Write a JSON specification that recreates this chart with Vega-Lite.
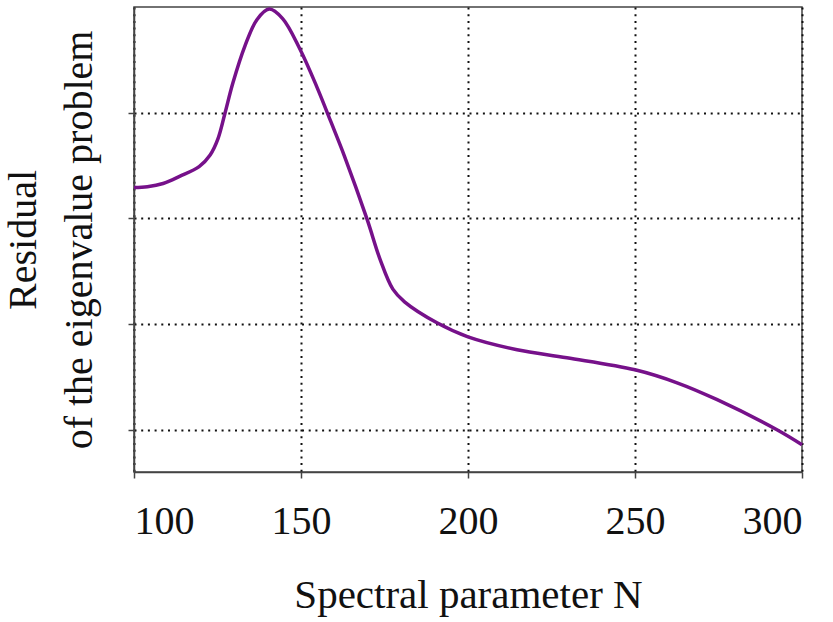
{
  "$schema": "https://vega.github.io/schema/vega-lite/v6.json",
  "width": 668,
  "height": 465,
  "autosize": {"type": "none"},
  "padding": {"left": 134, "top": 7, "right": 31, "bottom": 150},
  "background": "white",
  "config": {
    "view": {"stroke": "#444", "strokeWidth": 1.5},
    "font": "Liberation Serif",
    "axis": {
      "domainColor": "#444",
      "domainWidth": 1.5,
      "tickColor": "#444",
      "tickWidth": 1.5,
      "tickSize": 6,
      "gridColor": "#111",
      "gridWidth": 2,
      "gridDash": [2, 4.7],
      "labelFont": "Liberation Serif",
      "titleFont": "Liberation Serif",
      "labelColor": "#111",
      "titleColor": "#111",
      "titleFontWeight": "normal"
    }
  },
  "data": {
    "values": [
      {"N": 100, "residual": 3.293},
      {"N": 104, "residual": 3.30},
      {"N": 108.7, "residual": 3.330},
      {"N": 113.8, "residual": 3.400},
      {"N": 119.5, "residual": 3.49},
      {"N": 122.8, "residual": 3.60},
      {"N": 125.1, "residual": 3.75},
      {"N": 127.2, "residual": 3.99},
      {"N": 129.6, "residual": 4.28},
      {"N": 133.2, "residual": 4.63},
      {"N": 136.8, "residual": 4.88},
      {"N": 140.5, "residual": 4.98},
      {"N": 144.5, "residual": 4.89},
      {"N": 149.7, "residual": 4.60},
      {"N": 154.8, "residual": 4.24},
      {"N": 159, "residual": 3.91},
      {"N": 163, "residual": 3.59},
      {"N": 169.8, "residual": 2.99},
      {"N": 173.7, "residual": 2.61},
      {"N": 177.5, "residual": 2.33},
      {"N": 181, "residual": 2.21},
      {"N": 190.7, "residual": 2.012},
      {"N": 200, "residual": 1.879},
      {"N": 214.7, "residual": 1.757},
      {"N": 229.6, "residual": 1.681},
      {"N": 250, "residual": 1.567},
      {"N": 262.6, "residual": 1.444},
      {"N": 274.6, "residual": 1.284},
      {"N": 292.5, "residual": 1.0},
      {"N": 300, "residual": 0.858}
    ]
  },
  "mark": {"type": "line", "color": "#76118A", "strokeWidth": 3.5, "interpolate": "catmull-rom"},
  "encoding": {
    "x": {
      "field": "N",
      "type": "quantitative",
      "scale": {"domain": [100, 300], "nice": false, "zero": false},
      "axis": {
        "values": [100, 150, 200, 250, 300],
        "title": "Spectral parameter N",
        "labelFontSize": 40,
        "titleFontSize": 41,
        "labelPadding": 23,
        "titlePadding": 34,
        "grid": true
      }
    },
    "y": {
      "field": "residual",
      "type": "quantitative",
      "scale": {"domain": [0.6, 5], "nice": false, "zero": false},
      "axis": {
        "values": [1, 2, 3, 4],
        "labels": false,
        "title": ["Residual", "of the eigenvalue problem"],
        "titleFontSize": 40,
        "titleLineHeight": 56,
        "titlePadding": 28,
        "grid": true
      }
    }
  }
}
